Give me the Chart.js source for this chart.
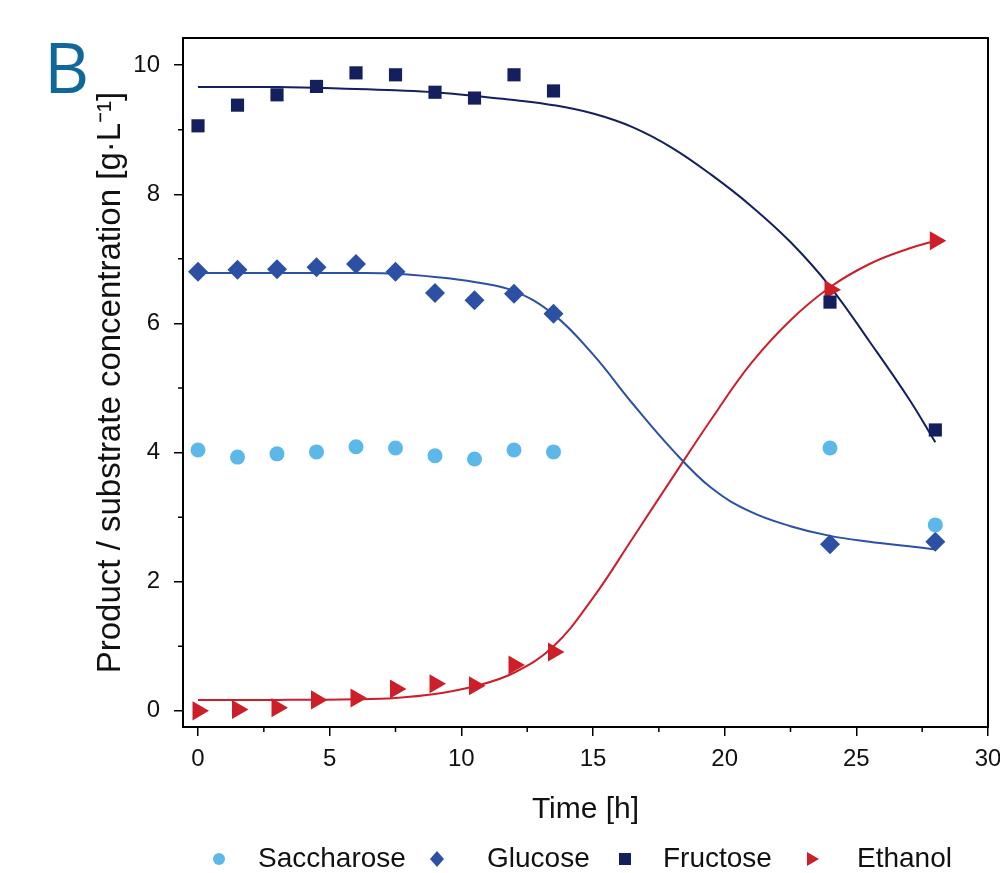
<!DOCTYPE html>
<html lang="en">
<head>
<meta charset="UTF-8">
<title>Fermentation kinetics B</title>
<script src="https://cdn.jsdelivr.net/npm/chart.js"></script>
<style>
  html, body { margin: 0; padding: 0; background: #fff; }
  #wrap { width: 1000px; height: 873px; position: relative; }
</style>
</head>
<body>
<div id="wrap"><canvas id="kinetics"></canvas></div>
<script>
// measured points
const timePoints = [0, 1.5, 3, 4.5, 6, 7.5, 9, 10.5, 12, 13.5, 24, 28];
const saccharose = [4.04, 3.93, 3.98, 4.01, 4.09, 4.07, 3.95, 3.90, 4.04, 4.01, 4.07, 2.88];
const glucose    = [6.80, 6.83, 6.84, 6.87, 6.92, 6.80, 6.47, 6.36, 6.46, 6.15, 2.58, 2.62];
const fructose   = [9.06, 9.38, 9.54, 9.67, 9.88, 9.85, 9.58, 9.49, 9.85, 9.60, 6.33, 4.35];
const ethanol    = [0.00, 0.02, 0.05, 0.17, 0.20, 0.34, 0.42, 0.39, 0.71, 0.91, 6.52, 7.28];

// fitted curves
const fitTime     = [0, 3, 6, 7.5, 9, 10.5, 12, 13.5, 15, 16.5, 18, 19.5, 21, 22.5, 24, 25.5, 27, 28];
const glucoseFit  = [6.78, 6.78, 6.78, 6.77, 6.72, 6.64, 6.50, 6.14, 5.52, 4.76, 4.05, 3.45, 3.08, 2.86, 2.71, 2.62, 2.55, 2.50];
const fructoseFit = [9.66, 9.66, 9.63, 9.61, 9.58, 9.52, 9.46, 9.38, 9.25, 9.04, 8.72, 8.30, 7.82, 7.26, 6.57, 5.72, 4.83, 4.16];
const ethanolFit  = [0.17, 0.17, 0.18, 0.20, 0.26, 0.38, 0.59, 1.00, 1.75, 2.67, 3.60, 4.52, 5.38, 6.05, 6.56, 6.92, 7.16, 7.28];

const xTicks = [0, 5, 10, 15, 20, 25, 30];
const xMinor = [2.5, 7.5, 12.5, 17.5, 22.5, 27.5];
const yTicks = [0, 2, 4, 6, 8, 10];
const yMinor = [1, 3, 5, 7, 9];

const legendNames = ['Saccharose', 'Glucose', 'Fructose', 'Ethanol'];

const colSac = '#5cb8e8';
const colGlu = '#2c50a3';
const colFru = '#141f5e';
const colEth = '#cc1f2a';

function pts(xs, ys) { return xs.map((t, i) => ({x: t, y: ys[i]})); }

function fitLine(data, color) {
  return {
    data: data, showLine: true, borderColor: color, borderWidth: 2,
    pointRadius: 0, tension: 0.4, fill: false, order: 2
  };
}

const FONT = '"Liberation Sans", Arial, sans-serif';

// frame, minor ticks, panel letter and the legend row
const decorations = {
  id: 'decorations',
  afterDraw(chart) {
    const {ctx, chartArea: a, scales: {x, y}} = chart;
    ctx.save();
    ctx.strokeStyle = '#000';
    ctx.lineWidth = 2;
    ctx.strokeRect(a.left, a.top, a.right - a.left, a.bottom - a.top);

    ctx.lineWidth = 1.5;
    ctx.beginPath();
    xMinor.forEach(v => {
      const px = x.getPixelForValue(v);
      ctx.moveTo(px, a.bottom); ctx.lineTo(px, a.bottom + 5);
    });
    yMinor.forEach(v => {
      const py = y.getPixelForValue(v);
      ctx.moveTo(a.left, py); ctx.lineTo(a.left - 5, py);
    });
    ctx.stroke();

    ctx.fillStyle = '#10689a';
    ctx.font = '70px "Open Sans", sans-serif';
    ctx.textBaseline = 'alphabetic';
    ctx.fillText('B', 44, 93);

    // legend
    const ly = 859;
    const markX = [219, 437, 625, 812];
    const textX = [258, 487, 663, 857];
    const cols = [colSac, colGlu, colFru, colEth];
    markX.forEach((mx, i) => {
      ctx.fillStyle = cols[i];
      ctx.beginPath();
      if (i === 0) ctx.arc(mx, ly, 6, 0, Math.PI * 2);
      if (i === 1) { ctx.moveTo(mx, ly - 8); ctx.lineTo(mx + 7, ly); ctx.lineTo(mx, ly + 8); ctx.lineTo(mx - 7, ly); ctx.closePath(); }
      if (i === 2) ctx.rect(mx - 6, ly - 6, 12, 12);
      if (i === 3) { ctx.moveTo(mx - 5, ly - 7); ctx.lineTo(mx + 7, ly); ctx.lineTo(mx - 5, ly + 7); ctx.closePath(); }
      ctx.fill();
    });
    ctx.fillStyle = '#111';
    ctx.font = '28px ' + FONT;
    ctx.textBaseline = 'middle';
    legendNames.forEach((n, i) => ctx.fillText(n, textX[i], ly));
    ctx.restore();
  }
};

new Chart(document.getElementById('kinetics'), {
  type: 'scatter',
  data: {
    datasets: [
      {label: legendNames[0], data: pts(timePoints, saccharose), pointStyle: 'circle', pointRadius: 7.5, backgroundColor: colSac, borderWidth: 0, order: 1},
      {label: legendNames[1], data: pts(timePoints, glucose), pointStyle: 'rectRot', pointRadius: 10, backgroundColor: colGlu, borderWidth: 0, order: 1},
      {label: legendNames[2], data: pts(timePoints, fructose), pointStyle: 'rect', pointRadius: 9.3, backgroundColor: colFru, borderWidth: 0, order: 1},
      {label: legendNames[3], data: pts(timePoints, ethanol), pointStyle: 'triangle', rotation: 90, pointRadius: 11, backgroundColor: colEth, borderWidth: 0, order: 1},
      fitLine(pts(fitTime, glucoseFit), colGlu),
      fitLine(pts(fitTime, fructoseFit), colFru),
      fitLine(pts(fitTime, ethanolFit), colEth)
    ]
  },
  options: {
    responsive: true,
    maintainAspectRatio: false,
    animation: false,
    layout: {padding: {left: 0, top: 38, right: 12, bottom: 40}},
    plugins: {legend: {display: false}, tooltip: {enabled: false}},
    scales: {
      x: {
        type: 'linear', min: -0.57, max: 30,
        afterBuildTicks: s => { s.ticks = xTicks.map(v => ({value: v})); },
        afterFit: s => { s.height = 106; s.paddingLeft = 0; s.paddingRight = 0; },
        border: {display: false},
        grid: {drawOnChartArea: false, drawTicks: true, tickLength: 9, color: '#000', lineWidth: 1.5},
        ticks: {font: {family: FONT, size: 24}, color: '#111', padding: 9, maxRotation: 0},
        title: {display: true, text: 'Time [h]', color: '#111', font: {family: FONT, size: 30}, padding: {top: 0, bottom: 5}}
      },
      y: {
        type: 'linear', min: -0.25, max: 10.42,
        afterBuildTicks: s => { s.ticks = yTicks.map(v => ({value: v})); },
        afterFit: s => { s.width = 183; s.paddingTop = 0; s.paddingBottom = 0; },
        border: {display: false},
        grid: {drawOnChartArea: false, drawTicks: true, tickLength: 9, color: '#000', lineWidth: 1.5},
        ticks: {font: {family: FONT, size: 24}, color: '#111', padding: 14},
        title: {display: true, text: 'Product / substrate concentration [g·L⁻¹]', color: '#111', font: {family: FONT, size: 33}, padding: {top: 91, bottom: 0}}
      }
    }
  },
  plugins: [decorations]
});
</script>
</body>
</html>
